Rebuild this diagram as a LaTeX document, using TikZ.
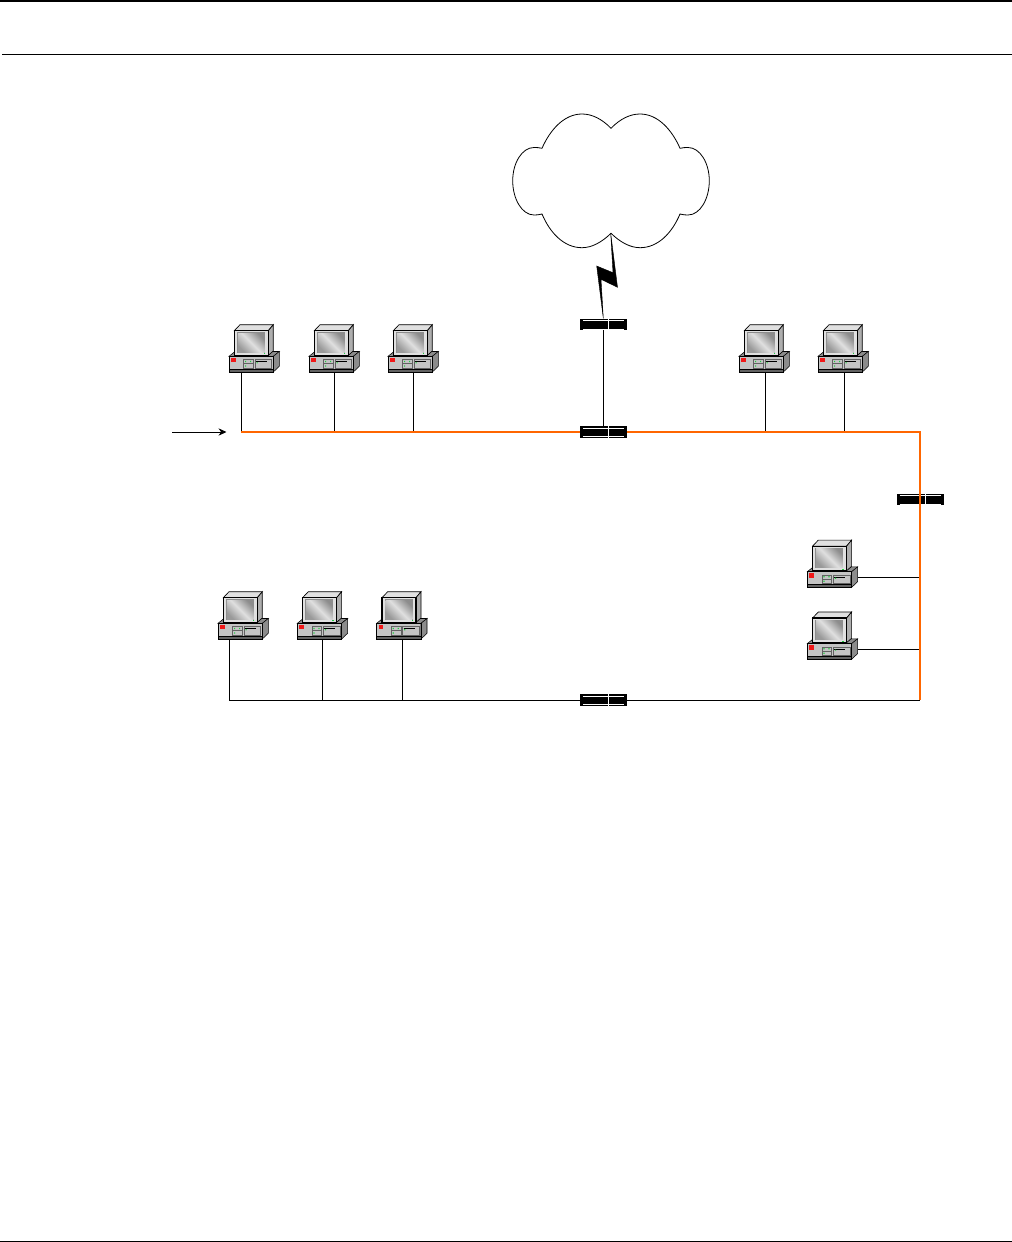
\documentclass[tikz,border=0pt]{standalone}
\usetikzlibrary{arrows.meta}
\definecolor{trunkorange}{HTML}{FF6600}
\definecolor{casegray}{HTML}{C4C4C4}
\definecolor{sidegray}{HTML}{8C8C8C}
\definecolor{topgray}{HTML}{E0E0E0}
\definecolor{lampred}{HTML}{F01818}
\definecolor{ledgreen}{HTML}{20D040}
\tikzset{
  wire/.style={draw=black, line width=0.75pt},
  trunk/.style={draw=trunkorange, line width=0.8pt},
  router/.style={fill=black, inner sep=0pt, minimum width=35pt, minimum height=8.4pt,
    path picture={
      \draw[white, line width=0.4pt] ([xshift=2pt,yshift=-1.2pt]path picture bounding box.north west) -- ([xshift=-2pt,yshift=-1.2pt]path picture bounding box.north east);
      \draw[white, line width=0.2pt] ([xshift=2pt,yshift=1pt]path picture bounding box.south west) -- ([xshift=-2pt,yshift=1pt]path picture bounding box.south east);
      \draw[white, line width=0.7pt] ([xshift=3.8pt]path picture bounding box.north) -- ([xshift=3.8pt]path picture bounding box.south);
    }},
  computer/.pic={
    % case
    \fill[casegray] (0,0) rectangle (44.3,-15.7);
    \fill[sidegray, draw=black, line width=0.4pt] (0,-15.7) -- (6,-20.5) -- (50.3,-20.5) -- (44.3,-15.7) -- cycle;
    \fill[sidegray, draw=black, line width=0.4pt] (44.3,0) -- (50.3,-5.7) -- (50.3,-20.5) -- (44.3,-15.7) -- cycle;
    \fill[sidegray!70!black] (0,0) rectangle (44.3,-2.7);
    \draw[black, line width=0.7pt] (0,-15.7) rectangle (44.3,0);
    \draw[black, line width=0.4pt] (0,-2.7) -- (44.3,-2.7);
    % drive bays
    \draw[sidegray!70!black, line width=0.5pt] (14.7,-4) rectangle (24.3,-12.3) (14.7,-8.2) -- (24.3,-8.2) (26,-4) rectangle (42.7,-12.3);
    \draw[black, line width=0.7pt] (27,-10.2) -- (38,-10.2);
    \fill[lampred] (2,-9.8) rectangle (6.6,-14.2);
    \fill[ledgreen] (16,-10) rectangle (17.2,-11.2) (21,-10) rectangle (22.2,-11.2) (16,-5.5) rectangle (17.2,-6.7) (27.5,-8.6) rectangle (28.7,-9.8);
    % monitor
    \fill[topgray, draw=black, line width=0.5pt] (5.3,-41.3) -- (11,-47.3) -- (44.3,-47.3) -- (39.3,-41.3) -- cycle;
    \fill[sidegray!70!white, draw=black, line width=0.5pt] (39.3,-41.3) -- (44.3,-47.3) -- (44.3,-21) -- (39.3,-16.7) -- cycle;
    \fill[topgray, draw=black, line width=0.9pt] (5.3,-16.7) rectangle (39.3,-41.3);
    \fill[sidegray] (8,-19) rectangle (36,-39.8);
    \shade[left color=gray!90, right color=gray!80, middle color=gray!25, shading angle=-45] (8.8,-19.6) rectangle (35.6,-39);
    \fill[ledgreen] (35,-17.6) rectangle (36.4,-18.8);
    \node[inner sep=0pt, minimum width=37.7pt, minimum height=35.5pt, anchor=south west] (-box) at (0,0) {};
  }
}
\begin{document}
\begin{tikzpicture}[x=0.75pt, y=-0.75pt]
\useasboundingbox (0,0) rectangle (1012,1242);
% page rules
\coordinate (ruleA) at (0,1);
\coordinate (ruleB) at (1012,1);
\coordinate (ruleC) at (2,54.3);
\coordinate (ruleD) at (1012,54.3);
\coordinate (ruleE) at (0,1241.5);
\coordinate (ruleF) at (1012,1241.5);
\draw[line width=1.6pt] (ruleA) -- (ruleB);
\draw[line width=0.8pt] (ruleC) -- (ruleD);
\draw[line width=1pt] (ruleE) -- (ruleF);
% cloud
\draw[fill=white, line width=0.6pt] (611,128.3) .. controls (620,119) and (630,114) .. (640,114)
  .. controls (658,114) and (672,130) .. (680,148.3) .. controls (683,147.6) and (685,147.5) .. (688,147.5)
  .. controls (700,147.5) and (709.3,163) .. (709.3,180.7) .. controls (709.3,199) and (700,215) .. (688,215)
  .. controls (685,215) and (683,214.8) .. (680,214) .. controls (672,233) and (658,247.7) .. (640,247.7)
  .. controls (630,247.7) and (620,242) .. (611,233.3) .. controls (602,242) and (592,247.7) .. (582,247.7)
  .. controls (564,247.7) and (550,233) .. (542,214) .. controls (539,214.8) and (537,215) .. (534,215)
  .. controls (522,215) and (512.7,199) .. (512.7,180.7) .. controls (512.7,163) and (522,147.5) .. (534,147.5)
  .. controls (537,147.5) and (539,147.6) .. (542,148.3) .. controls (550,130) and (564,114) .. (582,114)
  .. controls (592,114) and (602,119) .. (611,128.3) -- cycle;
% lightning
\fill[black, draw=black, line width=0.3pt] (610.7,233.3) -- (613,272.7) -- (596.7,266) -- (603.3,318.3) -- (601,279.3) -- (617.5,287.3) -- cycle;
% routers
\node[router] (routerA) at (603.5,324.5) {};
\node[router] (routerB) at (603.5,432) {};
\node[router] (routerC) at (920.5,499.5) {};
\node[router] (routerD) at (603.5,700) {};
% computers
\foreach \name/\x/\y in {pcA/229/372, pcB/309/372, pcC/388/372, pcD/739/372, pcE/818/372,
    pcF/218/639, pcG/297.3/639, pcH/376.7/639, pcI/807.3/587.4, pcJ/807.3/659.3}
  \pic (\name) at (\x,\y) {computer};
% taps on the lines
\foreach \name/\x/\y in {tapA/241/432, tapB/334/432, tapC/413/432, tapD/765/432, tapE/844/432,
    tapF/229.3/700, tapG/322.3/700, tapH/402.3/700, tapI/920/577, tapJ/920/649.3,
    cornerA/920/432, cornerB/920/700}
  \coordinate (\name) at (\x,\y);
\foreach \a in {A,B,C,D,E,F,G,H}
  \draw[wire] (pc\a-box.south -| tap\a) -- (tap\a);
\draw[wire] (pcI-box.east |- tapI) -- (tapI);
\draw[wire] (pcJ-box.east |- tapJ) -- (tapJ);
\draw[wire] (routerA) -- (routerB);
\draw[wire] (tapF) -- (routerD);
\draw[wire] (routerD) -- (cornerB);
\draw[trunk] (tapA) -- (routerB);
\draw[trunk] (routerB) -- (cornerA) -- (cornerB);
% arrow
\coordinate (arrowA) at (172,432);
\coordinate (arrowB) at (226.5,432);
\draw[wire, -{Stealth[length=6pt, width=5.5pt]}] (arrowA) -- (arrowB);
\end{tikzpicture}
\end{document}
